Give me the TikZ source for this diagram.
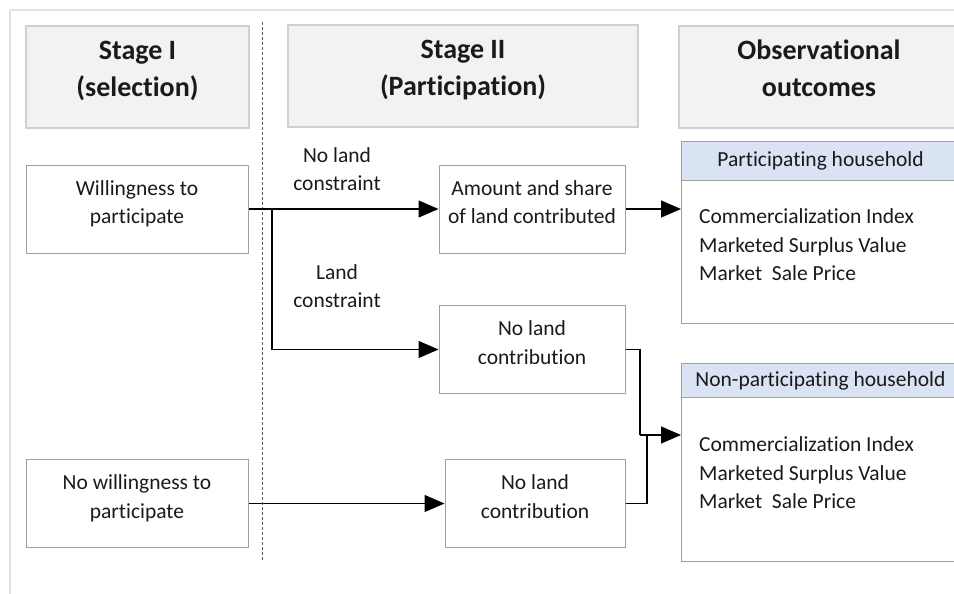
\documentclass[tikz,border=0pt]{standalone}
\usepackage{fontspec}
\setmainfont{Carlito}[Ligatures=NoCommon]
\usetikzlibrary{arrows.meta}
\definecolor{headgray}{HTML}{F2F2F2}
\definecolor{headline}{HTML}{D0D0D0}
\definecolor{boxline}{HTML}{A0A0A0}
\definecolor{hhblue}{HTML}{DAE3F3}
\definecolor{txt}{HTML}{1A1A1A}
\newcommand\liftby[1]{\rule[-#1]{0pt}{0pt}}
\tikzset{
  stagehead/.style={draw=headline,line width=1.6pt,fill=headgray,minimum height=102pt,align=center,inner sep=0pt,
    font=\fontsize{28}{37}\selectfont\bfseries},
  stepbox/.style={draw=boxline,line width=1pt,minimum height=88pt,align=center,inner sep=0pt,
    font=\fontsize{21.5}{28.5}\selectfont},
  hhhead/.style={draw=boxline,line width=1pt,fill=hhblue,minimum width=278pt,anchor=north west,inner sep=0pt,
    font=\fontsize{21.5}{28.5}\selectfont},
  hhbody/.style={draw=boxline,line width=1pt,minimum width=278pt,anchor=north west,inner sep=0pt},
  lbl/.style={align=center,inner sep=0pt,font=\fontsize{21.5}{28.5}\selectfont},
  flow/.style={line width=1.3pt,-{Triangle[length=20pt,width=17pt]}}
}
\begin{document}
\begin{tikzpicture}[x=1pt,y=-1pt,text=txt]
    \clip(0,0)rectangle(954,594);
    \draw[gray!22,line width=2pt](10,594)--(10,10)--(954,10);
    \draw[gray!70!black,line width=0.9pt,dash pattern=on 3pt off 2pt](262,22)--(262,562);
    \node[stagehead,minimum width=223pt](stageA)at(137.5,77){Stage I\\(selection)\liftby{17pt}};
    \node[stagehead,minimum width=350pt](stageB)at(463,76){Stage II\\(Participation)\liftby{17pt}};
    \node[stagehead,minimum width=280pt](stageC)at(819,77){Observational\\outcomes\liftby{17pt}};
    \node[stepbox,minimum width=222pt](willing)at(137,209){Willingness to\\participate\liftby{14pt}};
    \node[stepbox,minimum width=186pt](amount)at(532,209){Amount and share\\of land contributed\liftby{14pt}};
    \node[stepbox,minimum width=186pt](nolandA)at(532,349.5){No land\\contribution\liftby{14pt}};
    \node[stepbox,minimum width=222pt](nowill)at(137,503.5){No willingness to\\participate\liftby{14pt}};
    \node[stepbox,minimum width=180pt](nolandB)at(535,503.5){No land\\contribution\liftby{14pt}};
    \node[lbl](freelbl)at(337,169){No land\\constraint};
    \node[lbl](boundlbl)at(337,286){Land\\constraint};
    \node[hhhead,minimum height=39pt](parthead)at(681,141){Participating household};
    \node[hhbody,minimum height=143pt](partbody)at(681,180){};
    \node[lbl,anchor=west,align=left](partlist)at(699,245){Commercialization Index\\Marketed Surplus Value\\Market\ \ Sale Price};
    \node[hhhead,minimum height=34pt](nonhead)at(681,363){Non-participating household};
    \node[hhbody,minimum height=164pt](nonbody)at(681,397){};
    \node[lbl,anchor=west,align=left](nonlist)at(699,473){Commercialization Index\\Marketed Surplus Value\\Market\ \ Sale Price};
    \coordinate(split)at(272,209);\coordinate(joinA)at(640,435);\coordinate(joinB)at(647,435);
    \draw[flow](willing.east)--(amount.west);
    \draw[flow](split)|-(nolandA.west);
    \draw[flow](amount.east)--(amount.east-|partbody.west);
    \draw[flow](nowill.east)--(nolandB.west);
    \draw[line width=1.3pt](nolandA.east)-|(joinA);
    \draw[line width=1.3pt](nolandB.east)-|(joinB);
    \draw[flow](joinA)--(joinA-|nonbody.west);
\end{tikzpicture}
\end{document}
